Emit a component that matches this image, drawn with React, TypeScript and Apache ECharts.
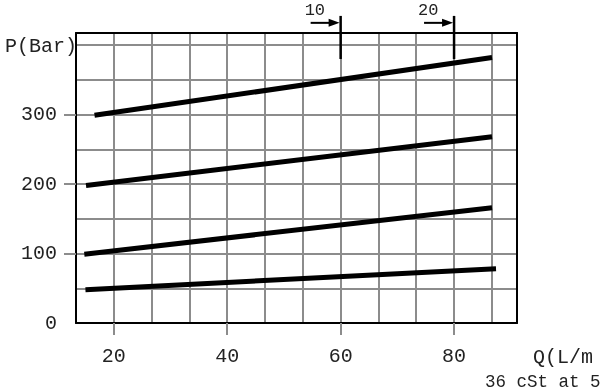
import React, { useEffect, useRef } from "react";
import * as echarts from "echarts";

// Axis ticks / labels
const xTickLabels = [20, 40, 60, 80];
const yTickLabels = [0, 100, 200, 300];
const yTickMarks = [100, 200, 300];

// Curves (each a straight line from start to end)
const curveStartQ = [16.6, 15.1, 14.8, 15.0];
const curveEndQ = [86.7, 86.7, 86.7, 87.4];
const curveStartP = [299, 198, 99, 48];
const curveEndP = [382, 268, 166, 78];

// Top markers
const markerQ = [60, 80];
const markerLabels = ["10", "20"];

const X_MIN = 40 / 3;
const X_MAX = 91.1;
const Y_MIN = 0;
const Y_MAX = 417.4;

const FONT = "Liberation Mono";
const GRID_COLOR = "#8c8c8c";
const TEXT_COLOR = "#222";

const borderAxis = (pos: string, min: number, max: number) => ({
  type: "value",
  min,
  max,
  position: pos,
  axisLine: { show: true, onZero: false, lineStyle: { color: "#000", width: 2 } },
  axisTick: { show: false },
  axisLabel: { show: false },
  splitLine: { show: false },
});

export default function App() {
  const ref = useRef<HTMLDivElement>(null);
  useEffect(() => {
    if (!ref.current) return;
    const chart = echarts.init(ref.current, undefined, { renderer: "svg" });
    const series = curveStartQ.map((q0, i) => ({
      type: "line",
      xAxisIndex: 0,
      yAxisIndex: 0,
      symbol: "none",
      silent: true,
      lineStyle: { color: "#000", width: 5, cap: "butt" },
      data: [
        [q0, curveStartP[i]],
        [curveEndQ[i], curveEndP[i]],
      ],
    }));
    chart.setOption({
      animation: false,
      grid: {
        left: 76,
        right: 83,
        top: 33,
        bottom: 68,
      },
      xAxis: [
        {
          type: "value",
          min: X_MIN,
          max: X_MAX,
          interval: 20 / 3,
          position: "bottom",
          axisLine: { show: true, onZero: false, lineStyle: { color: "#000", width: 2 } },
          axisTick: { show: false },
          axisLabel: { show: false },
          splitLine: { show: true, lineStyle: { color: GRID_COLOR, width: 2 } },
        },
        {
          type: "value",
          min: X_MIN,
          max: X_MAX,
          position: "bottom",
          axisLine: { show: false },
          axisTick: {
            show: true,
            customValues: xTickLabels,
            length: 12,
            lineStyle: { color: GRID_COLOR, width: 2 },
          },
          axisLabel: {
            show: true,
            customValues: xTickLabels,
            margin: 23,
            fontFamily: FONT,
            fontSize: 20,
            color: TEXT_COLOR,
          },
          splitLine: { show: false },
        },
        borderAxis("top", X_MIN, X_MAX),
      ],
      yAxis: [
        {
          type: "value",
          min: Y_MIN,
          max: Y_MAX,
          interval: 50,
          position: "left",
          axisLine: { show: true, onZero: false, lineStyle: { color: "#000", width: 2 } },
          axisTick: { show: false },
          axisLabel: { show: false },
          splitLine: { show: true, lineStyle: { color: GRID_COLOR, width: 2 } },
        },
        {
          type: "value",
          min: Y_MIN,
          max: Y_MAX,
          position: "left",
          axisLine: { show: false },
          axisTick: {
            show: true,
            customValues: yTickMarks,
            length: 12,
            lineStyle: { color: GRID_COLOR, width: 2 },
          },
          axisLabel: {
            show: true,
            customValues: yTickLabels,
            margin: 19,
            fontFamily: FONT,
            fontSize: 20,
            color: TEXT_COLOR,
          },
          splitLine: { show: false },
        },
        borderAxis("right", Y_MIN, Y_MAX),
      ],
      series,
    });

    const px = (q: number, p: number) =>
      chart.convertToPixel({ xAxisIndex: 0, yAxisIndex: 0 }, [q, p]) as number[];

    const graphics: any[] = [];
    markerQ.forEach((q, i) => {
      const top = px(q, 442);
      const bottom = px(q, 380);
      const arrowY = px(q, 432)[1];
      const x = top[0];
      graphics.push({
        type: "line",
        shape: { x1: x, y1: top[1], x2: x, y2: bottom[1] },
        style: { stroke: "#000", lineWidth: 2.5 },
        z: 100,
      });
      graphics.push({
        type: "line",
        shape: { x1: x - 30, y1: arrowY, x2: x - 9, y2: arrowY },
        style: { stroke: "#000", lineWidth: 2 },
        z: 100,
      });
      graphics.push({
        type: "polygon",
        shape: {
          points: [
            [x - 1, arrowY],
            [x - 12, arrowY - 4],
            [x - 12, arrowY + 4],
          ],
        },
        style: { fill: "#000" },
        z: 100,
      });
      graphics.push({
        type: "text",
        x: x - 36,
        y: arrowY - 4,
        style: {
          text: markerLabels[i],
          font: `17px "${FONT}"`,
          fill: TEXT_COLOR,
          textAlign: "left",
          textVerticalAlign: "bottom",
        },
        z: 100,
      });
    });

    const yNamePos = px(X_MIN, 400);
    graphics.push({
      type: "text",
      x: yNamePos[0] + 1,
      y: yNamePos[1] + 1,
      style: {
        text: "P(Bar)",
        font: `20px "${FONT}"`,
        fill: TEXT_COLOR,
        textAlign: "right",
        textVerticalAlign: "middle",
      },
      z: 100,
    });

    const xNamePos = px(X_MAX, 0);
    graphics.push({
      type: "text",
      x: xNamePos[0] + 16,
      y: xNamePos[1] + 34,
      style: {
        text: "Q(L/m",
        font: `20px "${FONT}"`,
        fill: TEXT_COLOR,
        textAlign: "left",
        textVerticalAlign: "middle",
      },
      z: 100,
    });
    graphics.push({
      type: "text",
      x: 485,
      y: 382,
      style: {
        text: "36 cSt at 5",
        font: `17.5px "${FONT}"`,
        fill: TEXT_COLOR,
        textAlign: "left",
        textVerticalAlign: "middle",
      },
      z: 100,
    });

    chart.setOption({ graphic: graphics });

    return () => chart.dispose();
  }, []);

  return (
    <div
      ref={ref}
      style={{ position: "fixed", left: 0, top: 0, width: 600, height: 391 }}
    />
  );
}
